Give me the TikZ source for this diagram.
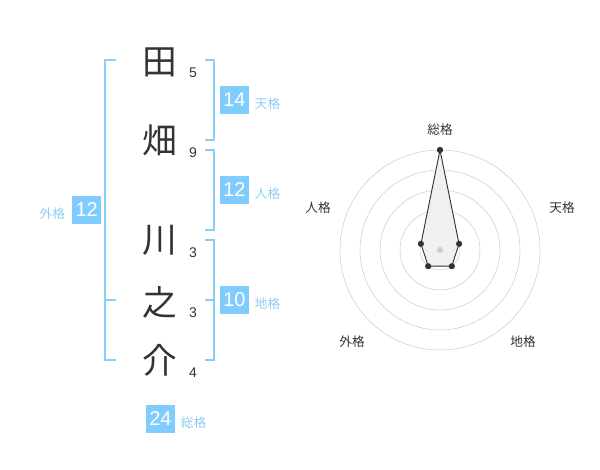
\documentclass[tikz,border=0pt]{standalone}
\usepackage{fontspec}
\setmainfont{Liberation Sans}
\newfontfamily\jp{Noto Sans CJK JP}
\usetikzlibrary{positioning}

\definecolor{kakublue}{HTML}{80CCFF}
\definecolor{kakuline}{HTML}{88CEFA}
\definecolor{kakutext}{HTML}{8CCDF2}
\definecolor{inkdark}{HTML}{333333}
\definecolor{ringgrey}{HTML}{CCCCCC}

\tikzset{
    kanji/.style={inner sep=0pt, text=inkdark, font=\jp\fontsize{26}{26}\selectfont},
    strokes/.style={inner sep=0pt, text=inkdark, font=\fontsize{10.5}{10.5}\selectfont},
    score/.style={fill=kakublue, text=white, inner sep=0pt, minimum width=21.75pt, minimum height=21pt, font=\fontsize{15}{15}\selectfont},
    kaku/.style={inner sep=0pt, text=kakutext, font=\jp\fontsize{9.5}{9.5}\selectfont},
    bracket/.style={kakuline, line width=1.5pt},
    ring/.style={ringgrey, line width=0.4pt},
    axislabel/.style={inner sep=0pt, text=inkdark, font=\jp\fontsize{9.5}{9.5}\selectfont},
    dot/.style={circle, fill=inkdark, inner sep=0pt, minimum size=4.5pt}
}

\begin{document}
\begin{tikzpicture}[x=0.75pt, y=-0.75pt]
    \useasboundingbox (0,0) rectangle (600,470);

    % name
    \node (ta) at (160,62) [kanji] {田};
    \node (hata) at (160,140) [kanji] {畑};
    \node (kawa) at (160,240) [kanji] {川};
    \node (no) at (160,302) [kanji] {之};
    \node (suke) at (160,360) [kanji] {介};

    % strokes
    \node (s1) at (193,73) [strokes] {5};
    \node (s2) at (193,153) [strokes] {9};
    \node (s3) at (193,253) [strokes] {3};
    \node (s4) at (193,313) [strokes] {3};
    \node (s5) at (193,373) [strokes] {4};

    % brackets
    \draw [bracket] (205,60) -- (214,60) -- (214,140) -- (205,140);
    \draw [bracket] (205,150) -- (214,150) -- (214,230) -- (205,230);
    \draw [bracket] (205,240) -- (214,240) -- (214,360) -- (205,360);
    \draw [bracket] (205,300) -- (214,300);
    \draw [bracket] (116,60) -- (105,60) -- (105,360) -- (116,360);
    \draw [bracket] (105,300) -- (116,300);

    % scores
    \node (ten) at (234.5,100) [score] {14};
    \node [kaku, right=4pt of ten, yshift=-3pt] {天格};
    \node (jin) at (234.5,190) [score] {12};
    \node [kaku, right=4pt of jin, yshift=-3pt] {人格};
    \node (chi) at (234.5,300) [score] {10};
    \node [kaku, right=4pt of chi, yshift=-3pt] {地格};
    \node (gai) at (86.7,210) [score] {12};
    \node [kaku, left=5pt of gai, yshift=-3pt] {外格};
    \node (sou) at (160.5,419) [score] {24};
    \node [kaku, right=4pt of sou, yshift=-3pt] {総格};

    % radar
    \begin{scope}[shift={(440,250)}]
        \foreach \r in {20,40,60,80,100}
            \draw [ring] (0,0) circle [radius=\r];
        \node (rsou) at (-90:100) [dot] {};
        \node (rten) at (-18:20) [dot] {};
        \node (rchi) at (54:20) [dot] {};
        \node (rgai) at (126:20) [dot] {};
        \node (rjin) at (198:20) [dot] {};
        \fill [gray!12, draw=inkdark, line width=0.7pt] (rsou.center) -- (rten.center) -- (rchi.center) -- (rgai.center) -- (rjin.center) -- cycle;
        \foreach \p in {rsou,rten,rchi,rgai,rjin}
            \fill [inkdark] (\p) circle [radius=3];
        \fill [ringgrey] (0,0) circle [radius=3];
        \node (lsou) at (0,-120) [axislabel] {総格};
        \node (lten) at (122,-42) [axislabel] {天格};
        \node (lchi) at (83,92) [axislabel] {地格};
        \node (lgai) at (-88,92) [axislabel] {外格};
        \node (ljin) at (-122,-42) [axislabel] {人格};
    \end{scope}
\end{tikzpicture}
\end{document}
